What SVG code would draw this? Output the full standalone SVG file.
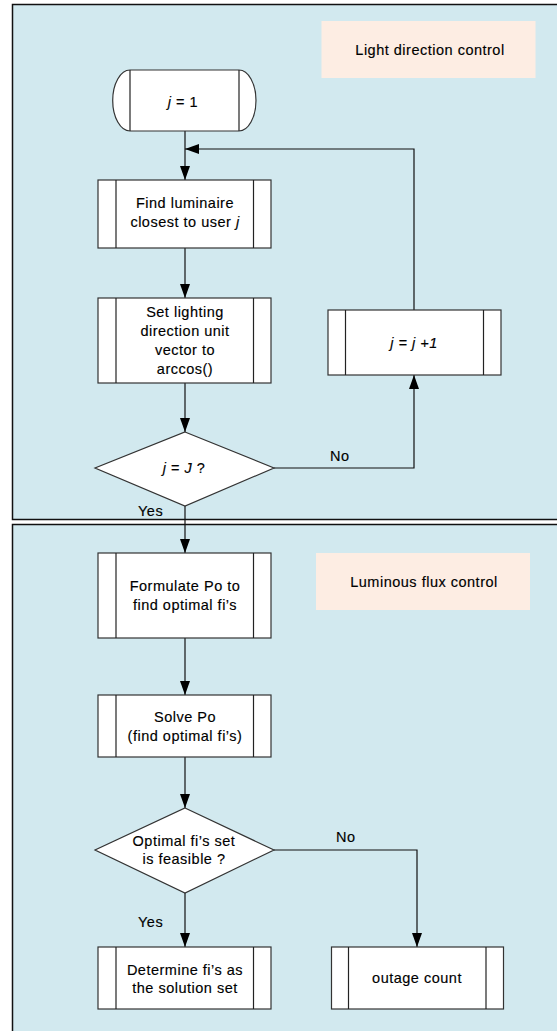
<svg xmlns="http://www.w3.org/2000/svg" width="557" height="1031" viewBox="0 0 557 1031">
<defs>
<style>
.panel{fill:#d2e9ef;stroke:#111;stroke-width:1.5}
.lbl{fill:#fdede3;stroke:none}
.box{fill:#fff;stroke:#333;stroke-width:1.2}
.in{stroke:#222;stroke-width:1.2;fill:none}
.con{fill:none;stroke:#111;stroke-width:1.2}
text{font-family:"Liberation Sans",Arial,sans-serif;font-size:14.5px;fill:#000;stroke:#000;stroke-width:0.15;letter-spacing:0.5px}
.c{text-anchor:middle}
.i{font-style:italic}
</style>
<marker id="ah" markerUnits="userSpaceOnUse" markerWidth="14" markerHeight="10" refX="14" refY="5" orient="auto">
<path d="M0,0 L14,5 L0,10 z" fill="#000"/>
</marker>
</defs>
<rect width="557" height="1031" fill="#fff"/>
<g id="panel-light">
<rect class="panel" x="12.5" y="4.5" width="560" height="515"/>
<rect class="lbl" x="321.5" y="21" width="214" height="57"/>
<text class="c" x="430" y="55">Light direction control</text>
</g>
<g id="panel-flux">
<rect class="panel" x="12.5" y="524.5" width="560" height="520"/>
<rect class="lbl" x="316" y="553" width="214" height="57"/>
<text class="c" x="424" y="587">Luminous flux control</text>
</g>
<g id="connectors">
<line class="con" x1="185" y1="131" x2="185" y2="180" marker-end="url(#ah)"/>
<line class="con" x1="185" y1="248" x2="185" y2="298" marker-end="url(#ah)"/>
<line class="con" x1="185" y1="383" x2="185" y2="432" marker-end="url(#ah)"/>
<polyline class="con" points="274,468 414,468 414,375" marker-end="url(#ah)"/>
<polyline class="con" points="414,310 414,149 185,149" marker-end="url(#ah)"/>
<line class="con" x1="185" y1="506" x2="185" y2="553" marker-end="url(#ah)"/>
<line class="con" x1="185" y1="638" x2="185" y2="695" marker-end="url(#ah)"/>
<line class="con" x1="185" y1="757" x2="185" y2="808" marker-end="url(#ah)"/>
<line class="con" x1="185" y1="893" x2="185" y2="947" marker-end="url(#ah)"/>
<polyline class="con" points="274,850 417,850 417,947" marker-end="url(#ah)"/>
<text x="330" y="461">No</text>
<text x="138" y="516">Yes</text>
<text x="336" y="842">No</text>
<text x="138" y="927">Yes</text>
</g>
<g id="start">
<path class="box" d="M130,70 H239 A17,30.5 0 0 1 239,131 H130 A17.3,30.5 0 0 1 130,70 Z"/>
<line class="in" x1="130" y1="70" x2="130" y2="131"/>
<line class="in" x1="239" y1="70" x2="239" y2="131"/>
<text class="c" x="183" y="107"><tspan class="i">j</tspan> = 1</text>
</g>
<g id="find">
<rect class="box" x="98" y="180" width="173" height="68"/>
<line class="in" x1="116" y1="180" x2="116" y2="248"/>
<line class="in" x1="253.5" y1="180" x2="253.5" y2="248"/>
<text class="c" x="185" y="208">Find luminaire</text>
<text class="c" x="185" y="227">closest to user <tspan class="i">j</tspan></text>
</g>
<g id="setdir">
<rect class="box" x="98" y="298" width="173" height="85"/>
<line class="in" x1="116" y1="298" x2="116" y2="383"/>
<line class="in" x1="253.5" y1="298" x2="253.5" y2="383"/>
<text class="c" x="185" y="317">Set lighting</text>
<text class="c" x="185" y="336">direction unit</text>
<text class="c" x="185" y="355">vector to</text>
<text class="c" x="185" y="374">arccos()</text>
</g>
<g id="incr">
<rect class="box" x="328" y="310" width="173" height="65"/>
<line class="in" x1="345.5" y1="310" x2="345.5" y2="375"/>
<line class="in" x1="483.5" y1="310" x2="483.5" y2="375"/>
<text class="c i" x="414" y="348">j = j +1</text>
</g>
<g id="dec1">
<polygon class="box" points="185,432 274,468 185,506 95,468"/>
<text class="c" x="184" y="473"><tspan class="i">j</tspan> = <tspan class="i">J</tspan> ?</text>
</g>
<g id="formulate">
<rect class="box" x="98" y="553" width="173" height="85"/>
<line class="in" x1="116" y1="553" x2="116" y2="638"/>
<line class="in" x1="253.5" y1="553" x2="253.5" y2="638"/>
<text class="c" x="185" y="591">Formulate Po to</text>
<text class="c" x="185" y="610">find optimal fi’s</text>
</g>
<g id="solve">
<rect class="box" x="98" y="695" width="173" height="62"/>
<line class="in" x1="116" y1="695" x2="116" y2="757"/>
<line class="in" x1="253.5" y1="695" x2="253.5" y2="757"/>
<text class="c" x="185" y="722">Solve Po</text>
<text class="c" x="185" y="741">(find optimal fi’s)</text>
</g>
<g id="dec2">
<polygon class="box" points="185,808 274,850 185,893 95,850"/>
<text class="c" x="184" y="846">Optimal fi’s set</text>
<text class="c" x="184" y="864">is feasible ?</text>
</g>
<g id="determine">
<rect class="box" x="98" y="947" width="173" height="62"/>
<line class="in" x1="116" y1="947" x2="116" y2="1009"/>
<line class="in" x1="253.5" y1="947" x2="253.5" y2="1009"/>
<text class="c" x="185" y="975">Determine fi’s as</text>
<text class="c" x="185" y="993">the solution set</text>
</g>
<g id="outage">
<rect class="box" x="331.5" y="947" width="172" height="62"/>
<line class="in" x1="348.5" y1="947" x2="348.5" y2="1009"/>
<line class="in" x1="486" y1="947" x2="486" y2="1009"/>
<text class="c" x="417" y="983">outage count</text>
</g>
</svg>
